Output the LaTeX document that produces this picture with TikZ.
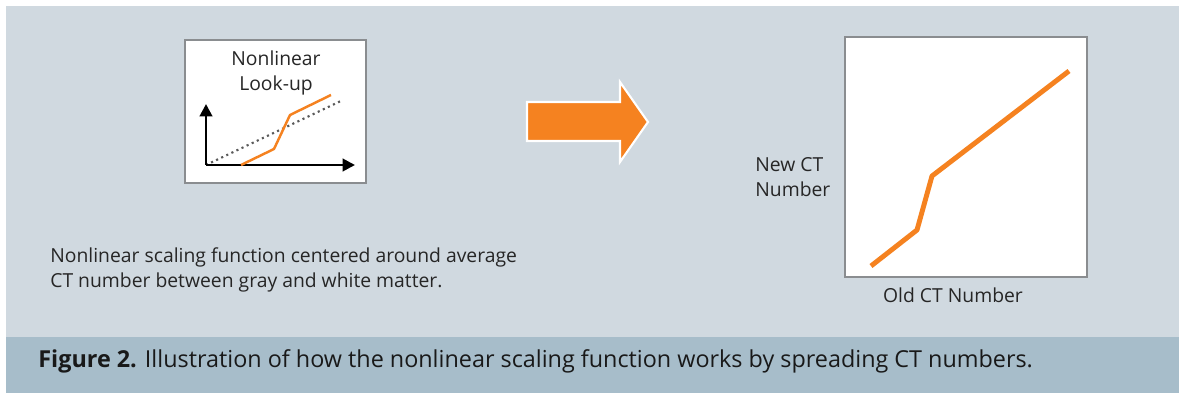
\documentclass[tikz,border=0pt]{standalone}
\usepackage{fontspec}
\setmainfont{Open Sans}
\usetikzlibrary{arrows.meta, positioning}

\definecolor{panelbg}{HTML}{D0D9E0}
\definecolor{captionbg}{HTML}{A7BDCA}
\definecolor{curveorange}{HTML}{F58220}
\definecolor{boxedge}{HTML}{8A8D90}

\tikzset{
  plot box/.style={draw=boxedge, fill=white, line width=0.6pt},
  label text/.style={font=\fontsize{11pt}{14pt}\selectfont, text=black!85, inner sep=0pt},
  axis line/.style={line width=1.6pt, -{Triangle[length=7pt, width=7pt]}},
  curve/.style={curveorange, line join=round}
}

\begin{document}
\begin{tikzpicture}[x=0.02cm, y=-0.02cm]

        \useasboundingbox (0,0) rectangle (1181,395);
        \fill[panelbg] (6,6) rectangle (1179,393);
        \fill[captionbg] (6,337) rectangle (1179,393);

        % small look-up chart
        \draw[plot box] (185,40) rectangle (366,183);
        \node [label text, align=center] (lookup) at (276,73) {Nonlinear\\Look-up};
        \coordinate (origin) at (206,165);
        \coordinate (yend) at (206,104);
        \coordinate (xend) at (355,165);
        \coordinate (diagend) at (343,100);
        \draw [gray!70!black, line width=1.2pt, dotted] (origin) -- (diagend);
        \draw [axis line] (origin) -- (yend);
        \draw [axis line] (origin) -- (xend);
        \draw [curve, line width=1.4pt] (241,165) -- (274,149) -- (290,115) -- (331,95);

        \node [label text, align=left, anchor=west] (note) at (50,270)
          {Nonlinear scaling function centered around average\\CT number between gray and white matter.};

        % big arrow
        \filldraw [fill=curveorange, draw=white, line width=1.2pt, line join=miter]
          (527,102) -- (620,102) -- (620,82) -- (648,122) -- (620,162) -- (620,141) -- (527,141) -- cycle;

        % result chart
        \draw[plot box] (845,37) rectangle (1087,277);
        \draw [curve, line width=2.8pt] (871,266) -- (917,230) -- (932,176) -- (1069,71);
        \node [label text, align=left, anchor=west] (newct) at (755,177) {New CT\\Number};
        \node [label text] (oldct) at (953,295) {Old CT Number};

        \node [font=\fontsize{13.3pt}{16pt}\selectfont, text=black!90, anchor=west, inner sep=0pt]
          (caption) at (38,361) {\textbf{Figure 2.} Illustration of how the nonlinear scaling function works by spreading CT numbers.};

\end{tikzpicture}
\end{document}
